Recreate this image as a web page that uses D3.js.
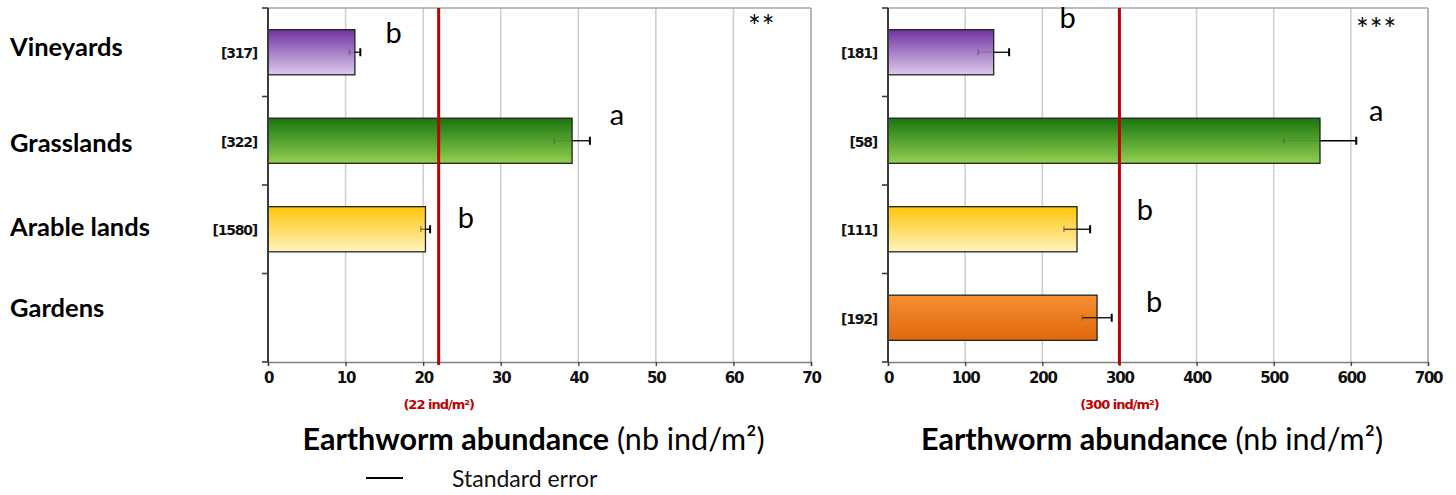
<!DOCTYPE html>
<html><head><meta charset="utf-8">
<script src="https://cdn.jsdelivr.net/npm/d3@7"></script>
<style>body{margin:0;background:#fff}svg{display:block}</style>
</head><body>
<svg id="c" width="1456" height="495"></svg>
<script>
// ---- data ----
const categories = ["Vineyards","Grasslands","Arable lands","Gardens"];
const leftValues = [11.2, 39.2, 20.3, null];
const leftSE = [0.7, 2.3, 0.6, null];
const leftN = ["[317]","[322]","[1580]",null];
const leftLetters = ["b","a","b",null];
const leftLetterX = [16.2, 45.0, 25.5, null];
const leftTicks = [0,10,20,30,40,50,60,70];
const leftRef = 22;
const leftRefLabel = "(22 ind/m²)";
const leftSig = "**";

const rightValues = [137, 560, 245, 271];
const rightSE = [20, 47, 17, 19];
const rightN = ["[181]","[58]","[111]","[192]"];
const rightLetters = ["b","a","b","b"];
const rightLetterX = [233, 633, 333, 345];
const rightTicks = [0,100,200,300,400,500,600,700];
const rightRef = 300;
const rightRefLabel = "(300 ind/m²)";
const rightSig = "***";

const axisTitleBold = "Earthworm abundance";
const axisTitleRest = " (nb ind/m²)";
const legendLabel = "Standard error";

const barColors = [["#7232a2","#dccbec"],["#187510","#92d050"],["#ffc60a","#fff2bf"],["#f68e32","#e2680c"]];

// ---- drawing ----
const svg = d3.select("#c");
const defs = svg.append("defs");
barColors.forEach((c,i)=>{
  const g = defs.append("linearGradient").attr("id","g"+i).attr("x1",0).attr("y1",0).attr("x2",0).attr("y2",1);
  g.append("stop").attr("offset","0%").attr("stop-color",c[0]);
  g.append("stop").attr("offset","100%").attr("stop-color",c[1]);
});

const TOP = 8, BOTTOM = 362;
const y = d3.scaleBand().domain(categories).range([TOP,BOTTOM]).paddingInner(0.49).paddingOuter(0.245);
const letterDy = {left:[-9,-16,-1,0], right:[-24,-20,-9,-6]};

function panel(cfg){
  const x = d3.scaleLinear().domain([cfg.ticks[0], cfg.ticks[cfg.ticks.length-1]]).range([cfg.x0,cfg.x1]);
  const g = svg.append("g");
  // grid
  g.selectAll(".grid").data(cfg.ticks.slice(1)).join("line")
    .attr("x1",d=>x(d)).attr("x2",d=>x(d)).attr("y1",TOP).attr("y2",BOTTOM)
    .attr("stroke",(d,i,a)=> i===a.length-1 ? "#a6a6a6" : "#cfcfcf").attr("stroke-width",1.6);
  // top border
  g.append("line").attr("x1",cfg.x0).attr("x2",cfg.x1).attr("y1",TOP).attr("y2",TOP).attr("stroke","#a6a6a6").attr("stroke-width",1.6);
  // bottom axis
  const ax = d3.axisBottom(x).tickValues(cfg.ticks).tickSize(4).tickPadding(6).tickFormat(d3.format("d"));
  const axG = g.append("g").attr("transform",`translate(0,${BOTTOM})`).call(ax);
  axG.select(".domain").attr("stroke","#808080").attr("stroke-width",1.6);
  axG.selectAll(".tick line").attr("stroke","#404040").attr("stroke-width",1.4);
  axG.selectAll(".tick text").attr("font-family","DejaVu Sans").attr("font-weight","bold").attr("font-size",15)
    .attr("letter-spacing","-1.2").attr("fill","#111");
  // bars
  const idx = d3.range(categories.length).filter(i=>cfg.values[i]!=null);
  g.selectAll(".bar").data(idx).join("rect")
    .attr("x",x(0)).attr("y",i=>y(categories[i])).attr("width",i=>x(cfg.values[i])-x(0)).attr("height",y.bandwidth())
    .attr("fill",i=>`url(#g${i})`).attr("stroke","#222").attr("stroke-width",1.3);
  // error bars
  idx.forEach(i=>{
    const cy = y(categories[i])+y.bandwidth()/2;
    const v = cfg.values[i], s = cfg.se[i];
    g.append("line").attr("x1",x(v-s)).attr("x2",x(v)).attr("y1",cy).attr("y2",cy).attr("stroke","#000").attr("stroke-opacity",cfg.innerOp[i]).attr("stroke-width",1.2);
    g.append("line").attr("x1",x(v)).attr("x2",x(v+s)).attr("y1",cy).attr("y2",cy).attr("stroke","#000").attr("stroke-width",1.3);
    g.append("line").attr("x1",x(v+s)).attr("x2",x(v+s)).attr("y1",cy-4).attr("y2",cy+4).attr("stroke","#000").attr("stroke-width",2);
    g.append("line").attr("x1",x(v-s)).attr("x2",x(v-s)).attr("y1",cy-3).attr("y2",cy+3).attr("stroke","#555").attr("stroke-opacity",0.6).attr("stroke-width",1.5);
  });
  // reference line
  g.append("line").attr("x1",x(cfg.ref)).attr("x2",x(cfg.ref)).attr("y1",TOP).attr("y2",BOTTOM+3)
    .attr("stroke","#c00000").attr("stroke-width",3);
  g.append("text").attr("x",x(cfg.ref)).attr("y",BOTTOM+47).attr("text-anchor","middle")
    .attr("font-family","DejaVu Sans").attr("font-weight","bold").attr("font-size",13).attr("letter-spacing","-1")
    .attr("fill","#c00000").text(cfg.refLabel);
  // left axis
  g.append("line").attr("x1",cfg.x0).attr("x2",cfg.x0).attr("y1",TOP).attr("y2",BOTTOM).attr("stroke","#3a3a3a").attr("stroke-width",2);
  const bounds = d3.range(categories.length+1).map(k=>TOP + k*y.step());
  g.selectAll(".yt").data(bounds).join("line")
    .attr("x1",cfg.x0-6).attr("x2",cfg.x0).attr("y1",d=>d).attr("y2",d=>d).attr("stroke","#3a3a3a").attr("stroke-width",1.6);
  // n labels
  g.selectAll(".n").data(idx).join("text")
    .attr("x",cfg.x0-11).attr("y",i=>y(categories[i])+y.bandwidth()/2+6).attr("text-anchor","end")
    .attr("font-family","DejaVu Sans").attr("font-weight","bold").attr("font-size",14).attr("letter-spacing","-1.2")
    .attr("fill","#111").text(i=>cfg.n[i]);
  // letters
  g.selectAll(".lt").data(idx).join("text")
    .attr("x",i=>x(cfg.letterX[i])).attr("y",i=>y(categories[i])+y.bandwidth()/2+cfg.letterDy[i])
    .attr("text-anchor","middle").attr("font-family","Lato").attr("font-size",29).attr("fill","#000")
    .text(i=>cfg.letters[i]);
  // significance
  g.append("text").attr("x",cfg.sigX).attr("y",cfg.sigY).attr("font-family","Lato").attr("font-size",30)
    .attr("letter-spacing","1").attr("fill","#000").text(cfg.sig);
  // axis title
  const t = g.append("text").attr("x",(cfg.x0+cfg.x1)/2 - 6).attr("y",450).attr("text-anchor","middle")
    .attr("font-family","Lato").attr("font-size",30.5).attr("fill","#000");
  t.append("tspan").attr("font-weight","bold").text(axisTitleBold);
  t.append("tspan").text(axisTitleRest);
}

panel({x0:268,x1:811,ticks:leftTicks,values:leftValues,se:leftSE,n:leftN,letters:leftLetters,letterX:leftLetterX,
  letterDy:letterDy.left,ref:leftRef,refLabel:leftRefLabel,sig:leftSig,sigX:748,sigY:37,innerOp:[0.15,0.1,0.5]});
panel({x0:888,x1:1428,ticks:rightTicks,values:rightValues,se:rightSE,n:rightN,letters:rightLetters,letterX:rightLetterX,
  letterDy:letterDy.right,ref:rightRef,refLabel:rightRefLabel,sig:rightSig,sigX:1356,sigY:40,innerOp:[0.15,0.1,0.8,0.9]});

// category labels
svg.selectAll(".cat").data(categories).join("text")
  .attr("x",10).attr("y",d=>y(d)+y.bandwidth()/2+[4,11,7,-1][categories.indexOf(d)])
  .attr("font-family","Lato").attr("font-weight","bold").attr("font-size",25.5).attr("fill","#000").text(d=>d);

// legend
svg.append("line").attr("x1",366).attr("x2",403).attr("y1",478).attr("y2",478).attr("stroke","#000").attr("stroke-width",2);
svg.append("text").attr("x",452).attr("y",487).attr("font-family","Lato").attr("font-size",23).attr("fill","#111").text(legendLabel);
</script>
</body></html>
